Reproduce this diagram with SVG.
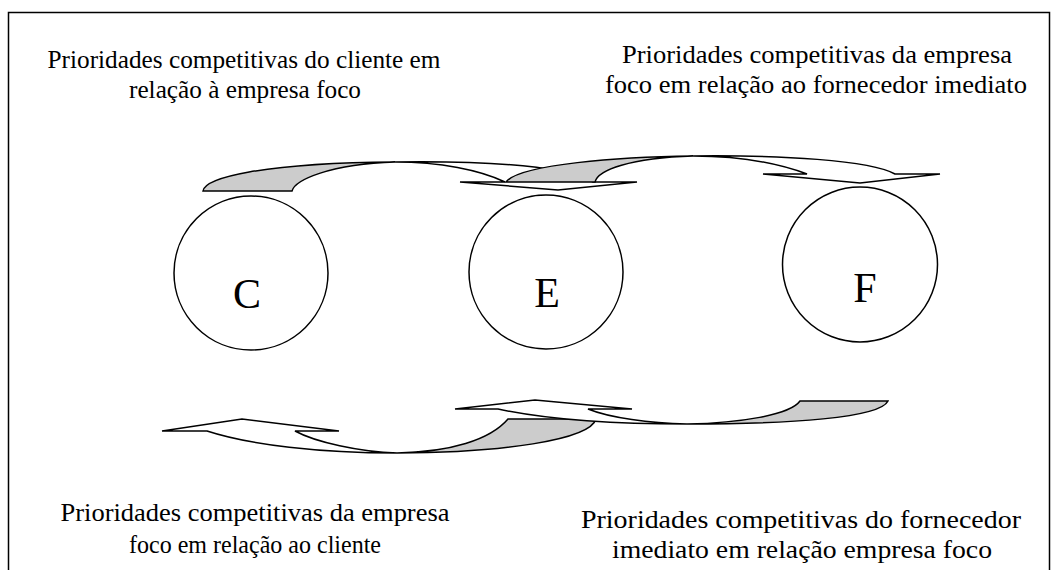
<svg xmlns="http://www.w3.org/2000/svg" width="1059" height="570" viewBox="0 0 1059 570">
<style>
.frame{fill:none;stroke:#000;stroke-width:1.5}
.node{fill:#fff;stroke:#000;stroke-width:1.5}
.front{fill:#fff;stroke:#000;stroke-width:1.5;stroke-linejoin:miter}
.back{fill:#cccccc;stroke:#000;stroke-width:1.5}
.lbl{font-family:"Liberation Serif","Times New Roman",serif;font-size:25px;fill:#000;text-anchor:middle}
.big{font-family:"Liberation Serif","Times New Roman",serif;font-size:42px;fill:#000;text-anchor:middle}
</style>
<rect x="0" y="0" width="1059" height="570" fill="#fff"/>
<rect class="frame" x="8.5" y="12.5" width="1041" height="600"/>

<g id="label-cliente-empresa">
<text class="lbl" x="244" y="68" textLength="393" lengthAdjust="spacingAndGlyphs">Prioridades competitivas do cliente em</text>
<text class="lbl" x="245" y="98" textLength="232" lengthAdjust="spacingAndGlyphs">relação à empresa foco</text>
</g>
<g id="label-empresa-fornecedor">
<text class="lbl" x="817" y="63" textLength="390" lengthAdjust="spacingAndGlyphs">Prioridades competitivas da empresa</text>
<text class="lbl" x="816" y="93" textLength="422" lengthAdjust="spacingAndGlyphs">foco em relação ao fornecedor imediato</text>
</g>
<g id="label-empresa-cliente">
<text class="lbl" x="255" y="521" textLength="389" lengthAdjust="spacingAndGlyphs">Prioridades competitivas da empresa</text>
<text class="lbl" x="255" y="553" textLength="252" lengthAdjust="spacingAndGlyphs">foco em relação ao cliente</text>
</g>
<g id="label-fornecedor-empresa">
<text class="lbl" x="801" y="528" textLength="440" lengthAdjust="spacingAndGlyphs">Prioridades competitivas do fornecedor</text>
<text class="lbl" x="802" y="558" textLength="380" lengthAdjust="spacingAndGlyphs">imediato em relação empresa foco</text>
</g>

<g id="connectors">
<g id="arrow-C-E">
<path class="back" d="M203,191 L292,191 C295,180 330,164 395,162 C260,163 205,178 203,191 Z"/>
<path class="front" d="M395,162 C470,161 560,164 593,182 L637,182 L558,190 L460,182 L505,182 C480,170 440,162 395,162 Z"/>
</g>
<g id="arrow-E-F">
<path class="back" d="M506,182 L595,182 C598,170 630,158 693,156 C620,157 520,164 506,182 Z"/>
<path class="front" d="M693,156 C780,155 870,160 895,174 L940,174 L860,183 L763,174 L807,174 C780,164 740,156 693,156 Z"/>
</g>
<g id="arrow-E-C">
<path class="back" d="M397,453 C450,452 490,440 508,419 L596,419 C590,440 500,453 397,453 Z"/>
<path class="front" d="M207,431 C250,445 320,453 397,453 C360,452 315,442 295,431 L339,431 L242,419 L162,431 Z"/>
</g>
<g id="arrow-F-E">
<path class="back" d="M687,424 C740,423 790,415 800,401 L888,401 C880,418 790,424 687,424 Z"/>
<path class="front" d="M498,409 C540,418 600,424 687,424 C650,423 610,418 588,409 L632,409 L535,400 L455,409 Z"/>
</g>
</g>

<g id="C">
<circle class="node" cx="251" cy="273" r="77"/>
<text class="big" x="247" y="308">C</text>
</g>
<g id="E">
<circle class="node" cx="546" cy="272" r="77"/>
<text class="big" x="547" y="307">E</text>
</g>
<g id="F">
<circle class="node" cx="860" cy="264.5" r="77.5"/>
<text class="big" x="865" y="302">F</text>
</g>
</svg>
